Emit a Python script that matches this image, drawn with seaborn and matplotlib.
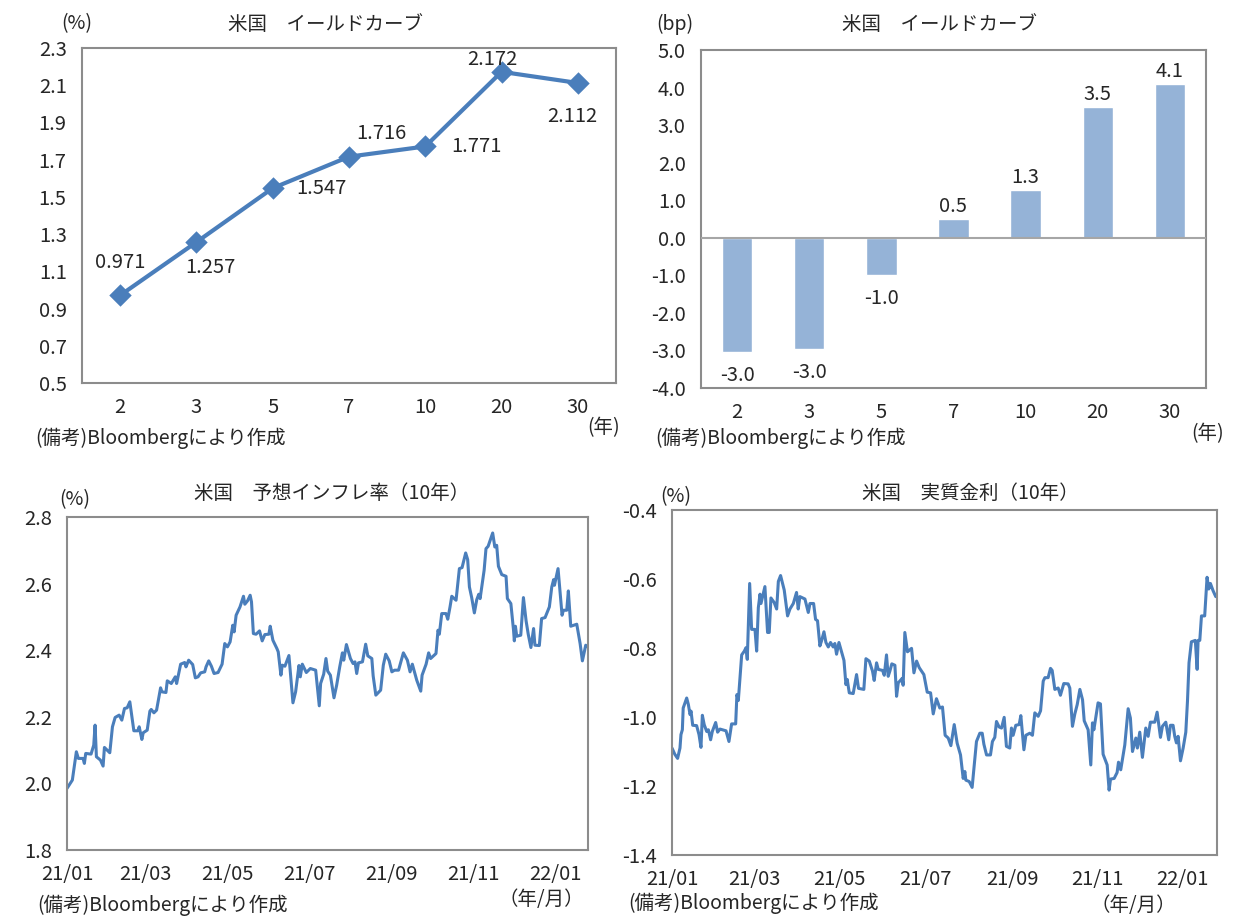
import matplotlib
matplotlib.use("Agg")
import matplotlib.pyplot as plt
import matplotlib.ticker as mticker
import numpy as np
import pandas as pd
import seaborn as sns

# --- data ---
maturities = ["2", "3", "5", "7", "10", "20", "30"]
yields = [0.971, 1.257, 1.547, 1.716, 1.771, 2.172, 2.112]
change_bp = [-3.04, -2.96, -1.0, 0.5, 1.27, 3.48, 4.09]
yield_ticks = [0.5, 0.7, 0.9, 1.1, 1.3, 1.5, 1.7, 1.9, 2.1, 2.3]

# days after 2021-01-01 and values, 10y breakeven inflation (%)
infl_day = [0, 4, 7, 8.5, 12, 13, 14, 18, 20, 21, 22, 25, 27, 28, 32, 34, 36, 39, 41, 43,
            45, 47, 50, 53, 54, 56, 57, 60, 62, 63, 65, 67, 70, 71, 74, 75, 78, 81, 82, 85,
            88, 89, 91, 94, 96, 98, 100, 103, 104, 106, 108, 110, 113, 116, 118, 120, 122, 124, 125, 126.5,
            129.4, 132, 133, 135, 137, 138, 139.4, 141.4, 144, 146, 148, 151, 152, 154, 157, 158, 160, 161, 163, 166,
            169, 171, 173.5, 174.5, 176, 179, 182, 186, 188.7, 189.7, 192, 193.7, 195, 197, 199.7, 201.7, 204, 206, 207, 209,
            212, 214, 215.4, 216.7, 218, 221, 223.4, 225, 228, 229, 231, 234.6, 236.6, 238.4, 241, 243, 245, 248,
            251.6, 254.6, 256.6, 258.3, 261.6, 264.6, 265.6, 268.6, 270.5, 272, 276, 277.5, 278.5, 280.3, 283.5, 284.8,
            286.5, 287.8, 291, 293.5, 295.5, 298.2, 299.7, 301, 302.7, 304.7, 306.5, 308, 309, 312, 313.4, 315,
            318.4, 320, 321.4, 322.7, 325.2, 328.4, 329.4, 332, 334, 334.6, 335.4, 336.4, 339.4, 341.4, 343.4, 345,
            347, 349, 350, 353.3, 355, 357.6, 360.8, 362.6, 364, 364.6, 367.3, 370.3, 371.3, 373.8, 375, 376.8,
            381.3, 383.8, 385.5, 388, 389.5]
infl_val = [1.985, 2.01, 2.095, 2.075, 2.075, 2.06, 2.09, 2.088, 2.115, 2.175, 2.08, 2.07, 2.052, 2.108, 2.092, 2.17, 2.198, 2.205, 2.19, 2.225,
            2.227, 2.245, 2.158, 2.158, 2.17, 2.132, 2.152, 2.16, 2.217, 2.222, 2.212, 2.22, 2.287, 2.275, 2.273, 2.308, 2.30, 2.32, 2.30, 2.358,
            2.363, 2.35, 2.37, 2.357, 2.317, 2.32, 2.332, 2.335, 2.35, 2.368, 2.352, 2.33, 2.333, 2.358, 2.42, 2.41, 2.425, 2.475, 2.455, 2.505,
            2.53, 2.562, 2.538, 2.548, 2.565, 2.545, 2.45, 2.448, 2.458, 2.428, 2.447, 2.448, 2.472, 2.43, 2.405, 2.395, 2.325, 2.355, 2.352, 2.384,
            2.242, 2.275, 2.354, 2.32, 2.358, 2.333, 2.345, 2.34, 2.233, 2.30, 2.328, 2.375, 2.337, 2.325, 2.257, 2.295, 2.35, 2.392, 2.37, 2.417,
            2.375, 2.36, 2.365, 2.33, 2.362, 2.365, 2.418, 2.383, 2.375, 2.323, 2.265, 2.28, 2.355, 2.388, 2.368, 2.335, 2.34, 2.34,
            2.392, 2.37, 2.335, 2.358, 2.31, 2.277, 2.325, 2.358, 2.392, 2.375, 2.39, 2.46, 2.448, 2.51, 2.51, 2.493,
            2.53, 2.562, 2.55, 2.645, 2.648, 2.692, 2.672, 2.59, 2.558, 2.512, 2.552, 2.568, 2.555, 2.64, 2.705, 2.712,
            2.752, 2.71, 2.715, 2.652, 2.627, 2.622, 2.555, 2.54, 2.46, 2.428, 2.472, 2.442, 2.445, 2.558, 2.488, 2.448,
            2.408, 2.465, 2.415, 2.414, 2.495, 2.498, 2.53, 2.59, 2.612, 2.595, 2.645, 2.505, 2.52, 2.52, 2.578, 2.472,
            2.478, 2.42, 2.368, 2.415, 2.41]

# days after 2021-01-01 and values, 10y real yield (%)
real_day = [0, 2, 4, 5.7, 6.4, 7.4, 8, 10.5, 11.7, 12.9, 13.6, 14.8, 17.6, 19.3, 20.7, 21.7, 23, 24.8, 26, 27.6,
            28.8, 31.2, 32.6, 34.3, 36, 38.6, 40.7, 42.6, 45.5, 46.4, 47.4, 49.8, 51.7, 52.9, 53.8, 55.5, 56.9, 59.3, 60.5, 61.7,
            62.9, 63.6, 66.4, 68.3, 69.5, 70.7, 73, 74.8, 76, 77.6, 80.2, 82.6, 84.3, 86.7, 89, 90.2, 91.4, 95, 97.4, 98.6,
            101.2, 102.6, 104, 105.7, 106.9, 108.6, 110, 111.7, 113.3, 115.2, 116.4, 117.6, 119.3, 122.9, 124.3, 125.2, 126.7, 129.5, 131.9, 133.3,
            137.1, 138.6, 141, 143.3, 144.5, 146.2, 147.4, 150.5, 151.7, 153.3, 154.5, 155.7, 157.1, 159.3, 160.5, 161.7, 164.5, 165.2, 166.4, 168.3,
            171.2, 172.9, 174.8, 176.7, 180, 182.4, 184.8, 186.7, 189, 191.4, 193.3, 195.2, 197.4, 199.3, 201.7, 203.8, 206.2, 208.1, 209.3, 210,
            212.4, 214.5, 217.6, 220, 221.7, 222.9, 224.8, 227.6, 229, 230.7, 231.9, 233.8, 235.5, 237.4, 239, 241.4, 242.6, 243.8, 245.7, 248.1,
            249.3, 251.5, 252.9, 255.7, 257.6, 259.3, 261.7, 263.4, 265.3, 266.5, 268.8, 270.5, 271.7, 273.6, 276, 277.6, 280, 283.1, 284.3, 286.2,
            287.9, 289.6, 291.5, 293.4, 294.6, 297.4, 299.3, 300.5, 301.5, 304.5, 306.2, 308.1, 311, 312.4, 313.4, 316, 318.1, 319.1, 320.7, 323.6,
            326, 327.6, 329.1, 331.5, 332.6, 334.3, 336.2, 338.6, 340.3, 341.9, 345, 346.7, 349.1, 350.5, 352.9, 355, 356.2, 358.1, 359.3, 360.5,
            361.7, 363.4, 365.3, 367.2, 368.4, 369.5, 371.2, 374, 375.3, 376, 377.2, 378.4, 380.7, 382.4, 383.6, 384.8, 386.7, 388.6, 389.8]
real_val = [-1.09, -1.108, -1.12, -1.09, -1.051, -1.037, -0.974, -0.945, -0.964, -0.993, -0.983, -1.024, -1.025, -1.051, -1.088, -0.995, -1.022, -1.042, -1.037, -1.066,
            -1.042, -1.016, -1.044, -1.035, -1.037, -1.04, -1.071, -1.02, -1.02, -0.935, -0.952, -0.82, -0.809, -0.799, -0.833, -0.613, -0.746, -0.746, -0.809, -0.683,
            -0.644, -0.671, -0.622, -0.755, -0.755, -0.655, -0.668, -0.687, -0.607, -0.59, -0.632, -0.707, -0.687, -0.671, -0.639, -0.687, -0.651, -0.658, -0.697, -0.671,
            -0.671, -0.717, -0.721, -0.794, -0.779, -0.753, -0.784, -0.797, -0.784, -0.797, -0.787, -0.818, -0.784, -0.836, -0.906, -0.891, -0.93, -0.932, -0.877, -0.917,
            -0.92, -0.831, -0.838, -0.867, -0.894, -0.843, -0.862, -0.865, -0.879, -0.82, -0.882, -0.867, -0.846, -0.85, -0.94, -0.901, -0.888, -0.908, -0.755, -0.811,
            -0.801, -0.872, -0.838, -0.857, -0.877, -0.928, -0.93, -0.991, -0.947, -0.974, -0.971, -1.053, -1.061, -1.083, -1.022, -1.076, -1.11, -1.178, -1.158, -1.183,
            -1.187, -1.204, -1.071, -1.047, -1.047, -1.079, -1.11, -1.11, -1.071, -1.059, -1.013, -1.029, -1.032, -1.001, -1.085, -1.09, -1.032, -1.053, -1.024, -1.022,
            -0.996, -1.095, -1.053, -1.047, -1.053, -0.988, -0.998, -0.982, -0.896, -0.886, -0.886, -0.859, -0.865, -0.92, -0.916, -0.937, -0.903, -0.904, -0.916, -1.027,
            -0.991, -0.964, -0.92, -0.95, -1.011, -1.037, -1.139, -1.017, -1.037, -0.959, -0.962, -1.108, -1.139, -1.212, -1.18, -1.178, -1.161, -1.131, -1.153, -1.081,
            -0.976, -1.003, -1.1, -1.061, -1.09, -1.044, -1.117, -1.032, -1.056, -1.015, -1.015, -0.986, -1.059, -1.027, -1.015, -1.066, -1.024, -1.024, -1.056, -1.075,
            -1.056, -1.127, -1.09, -1.044, -0.954, -0.843, -0.782, -0.778, -0.862, -0.778, -0.778, -0.707, -0.707, -0.595, -0.629, -0.613, -0.634, -0.651, -0.651]

month_ticks = ["2021-01-01", "2021-03-01", "2021-05-01", "2021-07-01", "2021-09-01", "2021-11-01", "2022-01-01"]
month_labels = ["21/01", "21/03", "21/05", "21/07", "21/09", "21/11", "22/01"]

# --- style ---
sns.set_theme(style="white")
plt.rcParams["font.family"] = ["Noto Sans CJK JP", "DejaVu Sans"]
LINE = "#4a7ebb"
BAR = "#95b3d7"
FRAME = "#8c8c8c"
TICK_FS = 14.5

W, H = 1241, 919
fig = plt.figure(figsize=(W / 100, H / 100), dpi=100, facecolor="white")


def box(l, t, r, b):
    return [l / W, 1 - b / H, (r - l) / W, (b - t) / H]


def ftext(x, y, s, **kw):
    kw.setdefault("fontsize", 14)
    kw.setdefault("ha", "center")
    kw.setdefault("va", "center")
    fig.text(x / W, 1 - y / H, s, **kw)


def frame(ax):
    for sp in ax.spines.values():
        sp.set_visible(True)
        sp.set_color(FRAME)
        sp.set_linewidth(1.5)
    ax.tick_params(axis="y", direction="out", length=5, width=1.2, color=FRAME,
                   labelsize=TICK_FS, pad=6)
    ax.tick_params(axis="x", length=0, labelsize=TICK_FS, pad=10)
    ax.set_xlabel("")
    ax.set_ylabel("")
    ax.grid(False)


# --- panel 1: yield curve ---
ax1 = fig.add_axes(box(82, 48, 616, 383))
sns.pointplot(x=maturities, y=yields, order=maturities, color=LINE, markers="D",
              linewidth=3, markersize=9, errorbar=None, ax=ax1)
ax1.set_xlim(-0.5, len(maturities) - 0.5)
ax1.set_ylim(0.5, 2.3)
ax1.yaxis.set_major_locator(mticker.FixedLocator(yield_ticks))
ax1.yaxis.set_major_formatter(mticker.FormatStrFormatter("%.1f"))
frame(ax1)
label_offsets = [(0, 24), (10, -18), (35, 0), (23, 17), (37, 0), (-7, 9), (-4, -24)]
for i, (v, off) in enumerate(zip(yields, label_offsets)):
    ax1.annotate(f"{v:.3f}", (i, v), xytext=off, textcoords="offset points",
                 ha="center", va="center", fontsize=TICK_FS)

# --- panel 2: change in bp ---
ax2 = fig.add_axes(box(701, 50, 1206, 388))
sns.barplot(x=maturities, y=change_bp, order=maturities, color=BAR, width=0.42,
            saturation=1, ax=ax2)
ax2.set_xlim(-0.5, len(maturities) - 0.5)
ax2.set_ylim(-4.0, 5.0)
ax2.yaxis.set_major_locator(mticker.MultipleLocator(1.0))
ax2.yaxis.set_major_formatter(mticker.FormatStrFormatter("%.1f"))
ax2.axhline(0, color="#a6a6a6", linewidth=1.5, zorder=3)
frame(ax2)
for i, v in enumerate(change_bp):
    off = 9 if v > 0 else -17
    ax2.annotate(f"{v:.1f}", (i, v), xytext=(0, off), textcoords="offset points",
                 ha="center", va="center", fontsize=TICK_FS)

# --- panels 3 & 4: daily series ---
base = pd.Timestamp("2021-01-01")
infl = pd.DataFrame({"date": base + pd.to_timedelta(infl_day, unit="D"), "val": infl_val})
real = pd.DataFrame({"date": base + pd.to_timedelta(real_day, unit="D"), "val": real_val})
tick_dates = pd.to_datetime(month_ticks)

ax3 = fig.add_axes(box(67, 517, 588, 850))
sns.lineplot(data=infl, x="date", y="val", color=LINE, linewidth=2.2, ax=ax3)
ax3.set_xlim(base, base + pd.Timedelta(days=389.7))
ax3.set_ylim(1.8, 2.8)
ax3.yaxis.set_major_locator(mticker.MultipleLocator(0.2))
ax3.yaxis.set_major_formatter(mticker.FormatStrFormatter("%.1f"))
ax3.set_xticks(tick_dates)
ax3.set_xticklabels(month_labels)
frame(ax3)

ax4 = fig.add_axes(box(672, 510, 1217, 855))
sns.lineplot(data=real, x="date", y="val", color=LINE, linewidth=2.2, ax=ax4)
ax4.set_xlim(base, base + pd.Timedelta(days=389.5))
ax4.set_ylim(-1.4, -0.4)
ax4.yaxis.set_major_locator(mticker.MultipleLocator(0.2))
ax4.yaxis.set_major_formatter(mticker.FormatStrFormatter("%.1f"))
ax4.set_xticks(tick_dates)
ax4.set_xticklabels(month_labels)
frame(ax4)

# --- titles, units and notes ---
note = "(備考)Bloombergにより作成"
ftext(325, 25, "米国　イールドカーブ")
ftext(77, 24, "(%)")
ftext(604, 428, "(年)")
ftext(35, 438, note, ha="left")

ftext(940, 25, "米国　イールドカーブ")
ftext(675, 24, "(bp)")
ftext(1208, 434, "(年)")
ftext(655, 438, note, ha="left")

ftext(332, 493, "米国　予想インフレ率（10年）")
ftext(75, 500, "(%)")
ftext(541, 900, "（年/月）")
ftext(37, 905, note, ha="left")

ftext(970, 493, "米国　実質金利（10年）")
ftext(676, 497, "(%)")
ftext(1133, 906, "（年/月）")
ftext(628, 903, note, ha="left")

fig.savefig("out.png", dpi=100, facecolor="white")
